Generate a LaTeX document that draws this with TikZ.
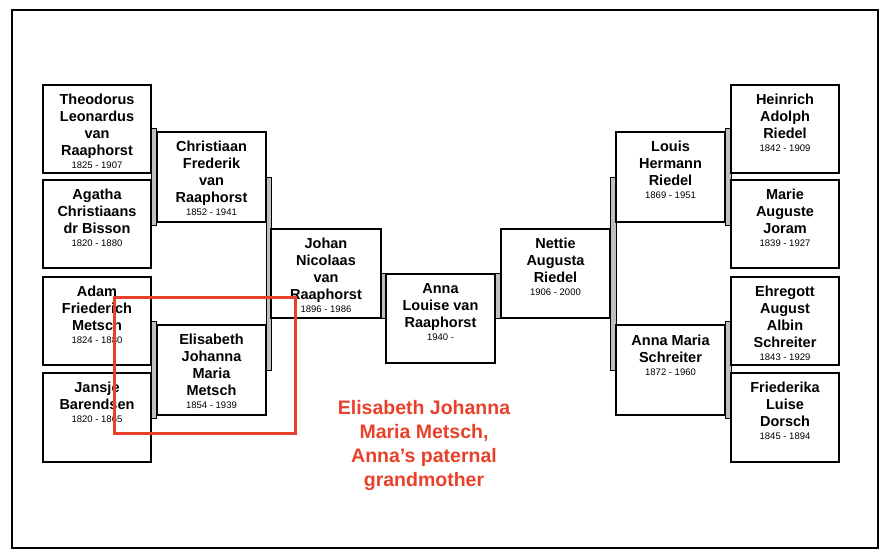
\documentclass[tikz,border=0pt]{standalone}
\usepackage{fontspec}
\setmainfont{Liberation Sans}
\begin{document}
\begin{tikzpicture}[x=1pt,y=-1pt,
  bx/.style={draw,line width=1.3pt,fill=white},
  br/.style={draw,line width=0.8pt,fill=gray!50},
  nm/.style={anchor=north,align=center,inner sep=0pt,font=\bfseries\fontsize{14.5}{17}\selectfont}]
\useasboundingbox (0,0) rectangle (888,558);
\draw[line width=1.5pt] (12,10) rectangle (878,548);
\newcommand\bx[7]{%
 \draw[bx] (#2,#3) rectangle (#4,#5);
 \node[nm] (#1) at ({(#2+#4)/2},{#3+9}) {#6\\[-4pt]{\mdseries\fontsize{9.5}{11}\selectfont #7}};}
% brackets
\draw[br] (151,128) rectangle (156,225);
\draw[br] (151,321) rectangle (156,418);
\draw[br] (266,177) rectangle (271,370);
\draw[br] (381,273) rectangle (386,318);
\draw[br] (495,273) rectangle (501,318);
\draw[br] (610,177) rectangle (616,370);
\draw[br] (725,128) rectangle (731,225);
\draw[br] (725,321) rectangle (731,418);
% left
\bx{t}{43}{85}{151}{173}{Theodorus\\Leonardus\\van\\Raaphorst}{1825 - 1907}
\bx{a}{43}{180}{151}{268}{Agatha\\Christiaans\\dr Bisson}{1820 - 1880}
\bx{ad}{43}{277}{151}{365}{Adam\\Friederich\\Metsch}{1824 - 1880}
\bx{j}{43}{373}{151}{462}{Jansje\\Barendsen}{1820 - 1865}
\bx{c}{157}{132}{266}{222}{Christiaan\\Frederik\\van\\Raaphorst}{1852 - 1941}
\bx{e}{157}{325}{266}{415}{Elisabeth\\Johanna\\Maria\\Metsch}{1854 - 1939}
\bx{jo}{271}{229}{381}{318}{Johan\\Nicolaas\\van\\Raaphorst}{1896 - 1986}
\bx{an}{386}{274}{495}{363}{Anna\\Louise van\\Raaphorst}{1940 -}
\bx{ne}{501}{229}{610}{318}{Nettie\\Augusta\\Riedel}{1906 - 2000}
\bx{lo}{616}{132}{725}{222}{Louis\\Hermann\\Riedel}{1869 - 1951}
\bx{am}{616}{325}{725}{415}{\\[-6pt]Anna Maria\\Schreiter}{1872 - 1960}
\bx{h}{731}{85}{839}{173}{Heinrich\\Adolph\\Riedel}{1842 - 1909}
\bx{m}{731}{180}{839}{268}{Marie\\Auguste\\Joram}{1839 - 1927}
\bx{eh}{731}{277}{839}{365}{Ehregott\\August\\Albin\\Schreiter}{1843 - 1929}
\bx{f}{731}{373}{839}{462}{Friederika\\Luise\\Dorsch}{1845 - 1894}
% highlight
\draw[line width=3pt,draw={rgb,255:red,232;green,64;blue,42}] (114,297) rectangle (295,433);
\node[align=center,text={rgb,255:red,232;green,64;blue,42},font=\bfseries\fontsize{19.5}{24}\selectfont] (lbl) at (424,445) {Elisabeth Johanna\\Maria Metsch,\\Anna’s paternal\\grandmother};
\end{tikzpicture}
\end{document}
